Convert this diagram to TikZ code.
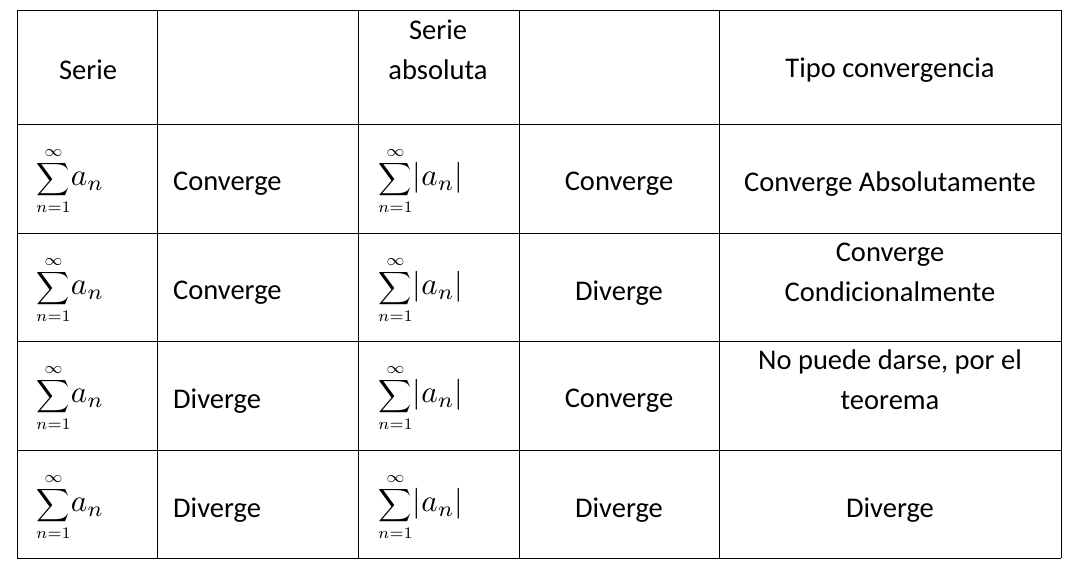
\documentclass[tikz,border=0pt]{standalone}
\usepackage{graphicx}
\usepackage{fontspec}
\setmainfont{Carlito}
\begin{document}
\begin{tikzpicture}[x=1pt,y=-1pt,
  txt/.style={font=\fontsize{28.5}{40}\selectfont,align=center,inner sep=0pt},
  mth/.style={anchor=west,inner sep=0pt},
  grid/.style={line width=0.8pt}]
\useasboundingbox (0,0) rectangle (1079,576);
\foreach \x in {17,157,358,519,719,1061} \draw[grid] (\x,10) -- (\x,558);
\foreach \y in {10,124,233,341,450,558} \draw[grid] (17,\y) -- (1061,\y);
\node[txt] (h1) at (88,70) {Serie};
\node[txt] (h3) at (438,50) {Serie\\absoluta};
\node[txt] (h5) at (890,70) {Tipo convergencia};
\foreach \r/\y in {1/181,2/290,3/398,4/507}{
  \node[mth] (s\r) at (36,\y) {\scalebox{2.3}{$\displaystyle\sum_{n=1}^{\infty}\!\scalebox{1.35}{$a_n$}$}};
  \node[mth] (a\r) at (378,\y) {\scalebox{2.3}{$\displaystyle\sum_{n=1}^{\infty}\!\scalebox{1.35}{$\left|a_n\right|$}$}};
}
\node[txt,anchor=west] (c21) at (173,184) {Converge};
\node[txt,anchor=west] (c22) at (173,293) {Converge};
\node[txt,anchor=west] (c23) at (173,401) {Diverge};
\node[txt,anchor=west] (c24) at (173,510) {Diverge};
\node[txt] (c41) at (619,184) {Converge};
\node[txt] (c42) at (619,293) {Diverge};
\node[txt] (c43) at (619,401) {Converge};
\node[txt] (c44) at (619,510) {Diverge};
\node[txt] (c51) at (890,184) {Converge Absolutamente};
\node[txt] (c52) at (890,272) {Converge\\Condicionalmente};
\node[txt] (c53) at (890,380) {No puede darse, por el\\teorema};
\node[txt] (c54) at (890,510) {Diverge};
\end{tikzpicture}
\end{document}
